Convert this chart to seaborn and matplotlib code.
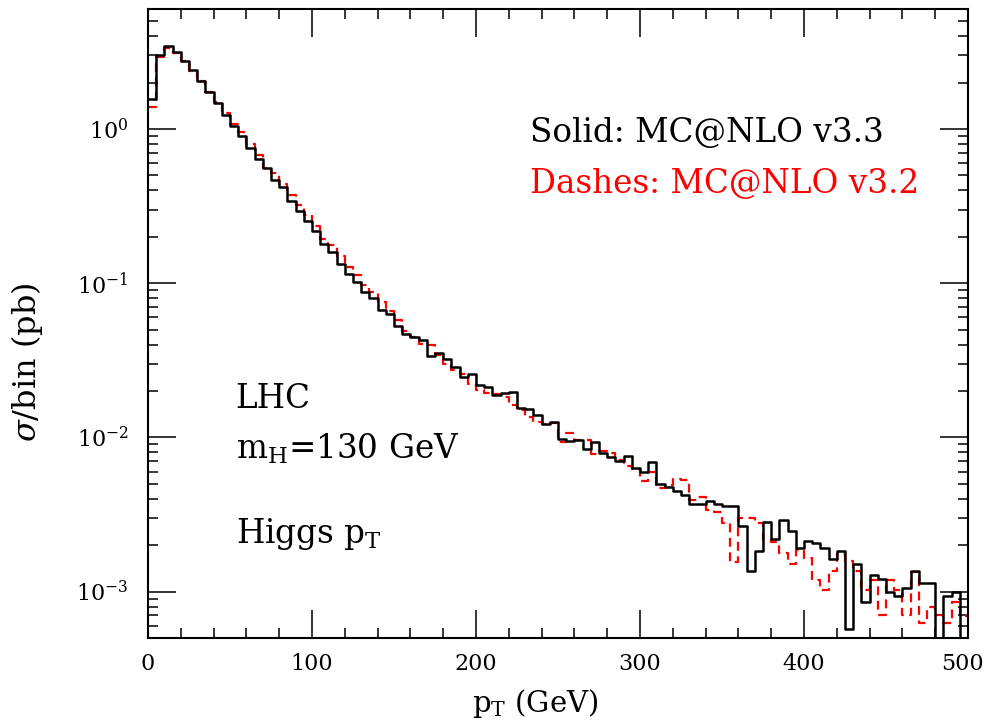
import numpy as np
import pandas as pd
import seaborn as sns
import matplotlib.pyplot as plt
from matplotlib.ticker import MultipleLocator, LogLocator
from matplotlib.transforms import ScaledTranslation

# bin edges in pT (GeV), 5 GeV bins
bin_edges = list(range(0, 505, 5))

# sigma/bin (pb), MC@NLO v3.3 (solid)
solid_v33 = [
    1.56, 3.04, 3.44, 3.16, 2.75, 2.40, 2.04, 1.73, 1.48, 1.23,
    1.05, 0.90, 0.757, 0.643, 0.557, 0.468, 0.42, 0.339, 0.295, 0.252,
    0.219, 0.180, 0.159, 0.133, 0.115, 0.102, 0.0875, 0.0804, 0.0673, 0.0634,
    0.0525, 0.0471, 0.0448, 0.0431, 0.0336, 0.0350, 0.0320, 0.0286, 0.0247, 0.0257,
    0.0220, 0.0211, 0.0188, 0.0193, 0.0196, 0.0156, 0.0153, 0.0140, 0.0122, 0.0126,
    0.0097, 0.0095, 0.0096, 0.00835, 0.0094, 0.0079, 0.0075, 0.0070, 0.0076, 0.0063,
    0.0060, 0.0069, 0.0050, 0.00475, 0.00446, 0.00421, 0.0037, 0.0037, 0.00384, 0.00371,
    0.0036, 0.0036, 0.00267, 0.00136, 0.00184, 0.00281, 0.00219, 0.00292, 0.00246, 0.00192,
    0.00212, 0.00206, 0.00192, 0.00163, 0.00182, 0.00057, 0.00150, 0.00085, 0.00128, 0.00120,
    0.00099, 0.00093, 0.00106, 0.00135, 0.00114, 0.00114, 0.0, 0.00093, 0.00100, 0.0,
]

# MC@NLO v3.2 (dashes)
dashed_v32 = [
    1.39, 2.93, 3.35, 3.10, 2.75, 2.37, 2.04, 1.75, 1.50, 1.27,
    1.08, 0.95, 0.796, 0.68, 0.56, 0.52, 0.44, 0.374, 0.323, 0.277,
    0.236, 0.193, 0.178, 0.150, 0.127, 0.113, 0.097, 0.088, 0.076, 0.066,
    0.058, 0.049, 0.0446, 0.0406, 0.0396, 0.034, 0.030, 0.0273, 0.0257, 0.0223,
    0.0204, 0.0193, 0.0190, 0.0182, 0.0162, 0.0151, 0.0135, 0.0126, 0.0122, 0.0124,
    0.0094, 0.0107, 0.0096, 0.0096, 0.0078, 0.0081, 0.0079, 0.0071, 0.0065, 0.0062,
    0.0052, 0.0060, 0.0047, 0.0049, 0.0054, 0.0053, 0.0039, 0.0041, 0.0034, 0.0033,
    0.0028, 0.00155, 0.0030, 0.0030, 0.0028, 0.00217, 0.0021, 0.00178, 0.00150, 0.00187,
    0.00165, 0.00119, 0.00102, 0.00136, 0.00175, 0.00157, 0.00136, 0.00102, 0.00119, 0.00071,
    0.00118, 0.00103, 0.00071, 0.00134, 0.00063, 0.00079, 0.00071, 0.00063, 0.00086, 0.00069,
]

bin_centers = [e + 2.5 for e in bin_edges[:-1]]
df = pd.DataFrame({'pt': bin_centers, 'v33': solid_v33, 'v32': dashed_v32})

plt.rcParams['font.family'] = ['DejaVu Serif']
plt.rcParams['mathtext.fontset'] = 'dejavuserif'

fig = plt.figure(figsize=(9.86, 7.2), dpi=100)
ax = fig.add_axes([148 / 986, 1 - 638 / 720, 820 / 986, 629 / 720])

# dashed first so the solid line sits on top
sns.histplot(data=df, x='pt', weights='v32', bins=bin_edges, element='step',
             fill=False, color='red', linewidth=1.6, linestyle=(0, (4, 2.5)), ax=ax)
sns.histplot(data=df, x='pt', weights='v33', bins=bin_edges, element='step',
             fill=False, color='black', linewidth=1.8, ax=ax)

ax.set_yscale('log', nonpositive='clip')
ax.set_xlim(0, 500)
ax.set_ylim(5e-4, 6)

ax.xaxis.set_major_locator(MultipleLocator(100))
ax.xaxis.set_minor_locator(MultipleLocator(20))
ax.yaxis.set_major_locator(LogLocator(base=10))
ax.yaxis.set_minor_locator(LogLocator(base=10, subs=np.arange(2, 10)))

ax.tick_params(which='both', direction='in', top=True, right=True, width=1.1, labelsize=16)
ax.tick_params(which='major', length=20)
ax.tick_params(which='minor', length=7)
ax.tick_params(axis='x', pad=11)
ax.tick_params(axis='y', pad=14)
for sp in ax.spines.values():
    sp.set_linewidth(1.5)

ax.set_xlabel(r'$\mathrm{p_T}$ (GeV)', fontsize=21)
ax.xaxis.set_label_coords(0.472, -0.078)
ax.set_ylabel(r'$\sigma$/bin (pb)', fontsize=23)
ax.yaxis.set_label_coords(-0.126, 0.439)

ax.text(0.466, 0.789, 'Solid: MC@NLO v3.3', transform=ax.transAxes,
        fontsize=23.5, color='black', va='baseline')
ax.text(0.466, 0.707, 'Dashes: MC@NLO v3.2', transform=ax.transAxes,
        fontsize=23.5, color='red', va='baseline')
ax.text(0.107, 0.366, 'LHC', transform=ax.transAxes, fontsize=23.5, va='baseline')
ax.text(0.107, 0.286, r'$\mathrm{m_H}$=130 GeV', transform=ax.transAxes,
        fontsize=23.5, va='baseline')
ax.text(0.107, 0.151, r'Higgs $\mathrm{p_T}$', transform=ax.transAxes,
        fontsize=23.5, va='baseline')

# nudge the "500" label left so it stays inside the figure
fig.canvas.draw()
for tick in ax.xaxis.get_major_ticks():
    if abs(tick.get_loc() - 500) < 1e-6:
        lab = tick.label1
        lab.set_transform(lab.get_transform() + ScaledTranslation(-6 / 100, 0, fig.dpi_scale_trans))

plt.savefig('out.png', dpi=100)
